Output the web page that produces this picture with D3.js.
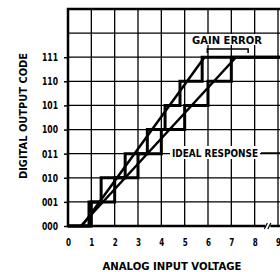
<!DOCTYPE html>
<html>
<head>
<meta charset="utf-8">
<script src="https://cdn.jsdelivr.net/npm/d3@7/dist/d3.min.js"></script>
<style>
  body { margin: 0; background: #fff; }
  text { font-family: "DejaVu Sans", "Liberation Sans", sans-serif; font-weight: bold; fill: #000; }
</style>
</head>
<body>
<div class="canvas"></div>
<script>
// values (x in volts, y in output code steps)
const codes = ['000', '001', '010', '011', '100', '101', '110', '111'];
const volts = ['0', '1', '2', '3', '4', '5', '6', '7', '8', '9'];
const idealSteps = [1, 2, 3, 4, 5, 6, 7];
const gainSteps = [0.9, 1.42, 2.45, 3.4, 4.16, 4.8, 5.75];
const idealLine = [[0.55, 0], [7.2, 7]];
const gainLine = [[0.6, 0], [5.85, 7]];
const gainBracket = [5.97, 7.72];

const width = 280, height = 272;
const margin = {top: 9, left: 68, bottom: 46};

const svg = d3.select('.canvas')
  .append('svg')
    .attr('width', width)
    .attr('height', height);

const x = d3.scaleLinear()
  .domain([0, 9])
  .range([margin.left, 278]);

const y = d3.scaleLinear()
  .domain([0, 9])
  .range([height - margin.bottom, margin.top]);

// grid
const grid = svg.append('g').attr('stroke', '#000').attr('stroke-width', 1.3);
grid.selectAll('.v')
  .data(d3.range(1, 10))
  .enter().append('line')
    .attr('x1', d => x(d)).attr('x2', d => x(d))
    .attr('y1', y(9)).attr('y2', y(0));
grid.selectAll('.h')
  .data(d3.range(1, 9))
  .enter().append('line')
    .attr('x1', x(0)).attr('x2', width)
    .attr('y1', d => y(d)).attr('y2', d => y(d));

// frame: left, top, bottom
svg.append('path')
  .attr('d', `M${width},${y(9)}H${x(0)}V${y(0)}H${width}`)
  .attr('fill', 'none')
  .attr('stroke', '#000')
  .attr('stroke-width', 2.5);

// break mark on the x axis
svg.append('rect')
  .attr('x', x(8.5) - 1).attr('y', y(0) - 3)
  .attr('width', 5).attr('height', 6)
  .attr('fill', '#fff');
svg.selectAll('.brk')
  .data([0, 3.5])
  .enter().append('line')
    .attr('x1', d => x(8.5) - 2 + d).attr('x2', d => x(8.5) + 1 + d)
    .attr('y1', y(0) + 3).attr('y2', y(0) - 3)
    .attr('stroke', '#000').attr('stroke-width', 1.2);

// staircases
const stair = steps => {
  const pts = [[0, 0]];
  steps.forEach((s, i) => { pts.push([s, i]); pts.push([s, i + 1]); });
  pts.push([9.2, steps.length]);
  return pts;
};
const line = d3.line().x(d => x(d[0])).y(d => y(d[1]));

svg.append('path')
  .attr('d', line(stair(idealSteps)))
  .attr('fill', 'none').attr('stroke', '#000').attr('stroke-width', 3);
svg.append('path')
  .attr('d', line(stair(gainSteps)))
  .attr('fill', 'none').attr('stroke', '#000').attr('stroke-width', 3);

// response lines
[idealLine, gainLine].forEach(l => {
  svg.append('path')
    .attr('d', line(l))
    .attr('fill', 'none').attr('stroke', '#000').attr('stroke-width', 2.5);
});

// axes
const yAxis = d3.axisLeft(y)
  .tickValues(d3.range(0, 8))
  .tickFormat(d => codes[d])
  .tickSize(4)
  .tickPadding(6);
const ya = svg.append('g')
  .attr('transform', `translate(${x(0)},0)`)
  .call(yAxis);
ya.select('.domain').remove();
ya.selectAll('line').attr('stroke-width', 1.5);
ya.selectAll('text')
  .style('font-size', '10.5px')
  .attr('textLength', 16)
  .attr('lengthAdjust', 'spacingAndGlyphs');

const xAxis = d3.axisBottom(x)
  .tickValues(d3.range(0, 10))
  .tickFormat(d => volts[d])
  .tickSize(0)
  .tickPadding(13);
const xa = svg.append('g')
  .attr('transform', `translate(0,${y(0)})`)
  .call(xAxis);
xa.select('.domain').remove();
xa.selectAll('text')
  .style('font-size', '10.5px')
  .attr('textLength', 5)
  .attr('lengthAdjust', 'spacingAndGlyphs');

// axis titles
svg.append('text')
  .attr('x', 172).attr('y', 269.5)
  .attr('text-anchor', 'middle')
  .style('font-size', '10px')
  .attr('textLength', 139)
  .attr('lengthAdjust', 'spacingAndGlyphs')
  .text('ANALOG INPUT VOLTAGE');

svg.append('text')
  .attr('transform', 'translate(27,116) rotate(-90)')
  .attr('text-anchor', 'middle')
  .style('font-size', '11px')
  .attr('textLength', 126)
  .attr('lengthAdjust', 'spacingAndGlyphs')
  .text('DIGITAL OUTPUT CODE');

// annotations
svg.append('rect')
  .attr('x', 170).attr('y', 146).attr('width', 90).attr('height', 13)
  .attr('fill', '#fff');
svg.append('text')
  .attr('x', 172).attr('y', 157)
  .style('font-size', '10.5px')
  .attr('textLength', 86)
  .attr('lengthAdjust', 'spacingAndGlyphs')
  .text('IDEAL RESPONSE');
svg.append('line')
  .attr('x1', 261).attr('x2', width)
  .attr('y1', 153).attr('y2', 153)
  .attr('stroke', '#000').attr('stroke-width', 1.5);

svg.append('rect')
  .attr('x', 190).attr('y', 34).attr('width', 74).attr('height', 11)
  .attr('fill', '#fff');
svg.append('text')
  .attr('x', 192).attr('y', 43.5)
  .style('font-size', '10px')
  .attr('textLength', 70)
  .attr('lengthAdjust', 'spacingAndGlyphs')
  .text('GAIN ERROR');
svg.append('path')
  .attr('d', `M${x(gainBracket[0])},53V49H${x(gainBracket[1])}V53`)
  .attr('fill', 'none')
  .attr('stroke', '#000').attr('stroke-width', 1.5);
</script>
</body>
</html>
